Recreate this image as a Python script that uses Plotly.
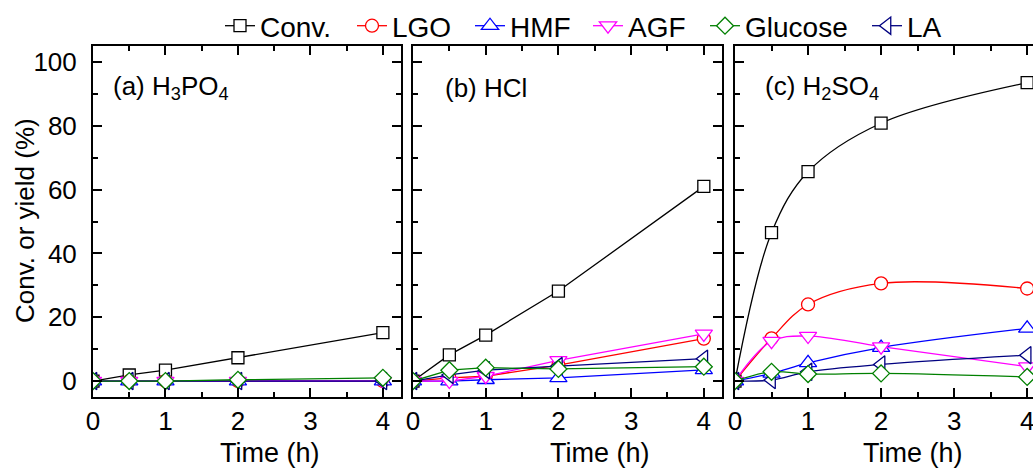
import plotly.graph_objects as go

W, H = 1033, 469

time_h = [0, 0.5, 1, 2, 4]
series_names = ["Conv.", "LGO", "HMF", "AGF", "Glucose", "LA"]

# panel (a) H3PO4
a_conv = [0, 1.9, 3.4, 7.3, 15.2]
a_lgo = [0, 0, 0, 0, 0]
a_hmf = [0, 0, 0, 0, 0]
a_agf = [0, 0, 0, 0, 0]
a_glucose = [0, 0, 0, 0.4, 1.0]
a_la = [0, 0, 0, 0, 0]

# panel (b) HCl
b_conv = [0, 8.2, 14.4, 28.2, 61.0]
b_lgo = [0, 1.0, 1.5, 5.0, 13.3]
b_hmf = [0, 0, 0.4, 1.0, 3.5]
b_agf = [0, 0, 1.5, 6.5, 14.8]
b_glucose = [0, 3.4, 4.2, 3.8, 4.5]
b_la = [0, 1.9, 3.4, 4.7, 7.0]

# panel (c) H2SO4
c_conv = [0, 46.5, 65.6, 80.8, 93.5]
c_lgo = [0, 13.4, 24.0, 30.6, 29.0]
c_hmf = [0, 2.4, 5.7, 10.5, 16.5]
c_agf = [0, 12.5, 14.1, 10.8, 4.5]
c_glucose = [0, 2.9, 2.2, 2.4, 1.3]
c_la = [0, 0.3, 2.9, 5.2, 8.1]

panel_labels = ["(a) H<sub>3</sub>PO<sub>4</sub>", "(b) HCl", "(c) H<sub>2</sub>SO<sub>4</sub>"]
x_title = "Time (h)"
y_title = "Conv. or yield (%)"

styles = {
    "Conv.": dict(color="#000000", symbol="square", size=12),
    "LGO": dict(color="#FF0000", symbol="circle", size=13),
    "HMF": dict(color="#0000FF", symbol="triangle-up", size=15),
    "AGF": dict(color="#FF00FF", symbol="triangle-down", size=15),
    "Glucose": dict(color="#008000", symbol="diamond", size=13),
    "LA": dict(color="#000080", symbol="triangle-left", size=15),
}
draw_order = ["Conv.", "LGO", "HMF", "AGF", "LA", "Glucose"]

panels = [
    dict(Conv=a_conv, LGO=a_lgo, HMF=a_hmf, AGF=a_agf, Glucose=a_glucose, LA=a_la),
    dict(Conv=b_conv, LGO=b_lgo, HMF=b_hmf, AGF=b_agf, Glucose=b_glucose, LA=b_la),
    dict(Conv=c_conv, LGO=c_lgo, HMF=c_hmf, AGF=c_agf, Glucose=c_glucose, LA=c_la),
]
shapes_line = ["linear", "linear", "spline"]

legend_ids = {"Conv.": "legend", "LGO": "legend2", "HMF": "legend3",
              "AGF": "legend4", "Glucose": "legend5", "LA": "legend6"}
legend_px = {"Conv.": 225, "LGO": 357, "HMF": 475, "AGF": 593, "Glucose": 710, "LA": 872}

FONT = "Liberation Sans, Arial, sans-serif"

fig = go.Figure()
for p, data in enumerate(panels):
    xa = "x" if p == 0 else f"x{p+1}"
    ya = "y" if p == 0 else f"y{p+1}"
    for name in draw_order:
        key = "Conv" if name == "Conv." else name
        st = styles[name]
        fig.add_trace(go.Scatter(
            x=time_h, y=data[key], name=name, xaxis=xa, yaxis=ya,
            mode="lines+markers",
            line=dict(color=st["color"], width=1.3, shape=shapes_line[p]),
            marker=dict(symbol=st["symbol"], size=st["size"], color="white",
                        line=dict(color=st["color"], width=1.3)),
            showlegend=(p == 0), legend=legend_ids[name],
        ))

px_dom = [(93, 401), (413, 722), (735, 1033)]
x_ranges = [[0, 4.25], [0, 4.25], [0, 4.08]]
ydom = [72 / H, 423 / H]

axis_common = dict(showline=True, linewidth=2, linecolor="black", ticks="inside",
                   tickwidth=2, ticklen=9, tickcolor="black", showgrid=False,
                   zeroline=False, automargin=False,
                   tickfont=dict(family=FONT, size=26, color="black"))

layout = dict(template="none", width=W, height=H,
              margin=dict(l=0, r=0, t=0, b=0, autoexpand=False),
              plot_bgcolor="white", paper_bgcolor="white",
              font=dict(family=FONT, size=26, color="black"))

for p in range(3):
    xk = "xaxis" if p == 0 else f"xaxis{p+1}"
    yk = "yaxis" if p == 0 else f"yaxis{p+1}"
    ya = "y" if p == 0 else f"y{p+1}"
    xa = "x" if p == 0 else f"x{p+1}"
    layout[xk] = dict(axis_common, domain=[px_dom[p][0] / W, px_dom[p][1] / W],
                      range=x_ranges[p], anchor=ya, tick0=0, dtick=1,
                      mirror="allticks", ticklabelstandoff=0, ticklabeloverflow="allow",
                      minor=dict(dtick=0.5, tick0=0, ticks="inside", ticklen=5,
                                 tickwidth=2, tickcolor="black"))
    layout[yk] = dict(axis_common, domain=ydom, range=[-5, 105], anchor=xa,
                      tick0=0, dtick=20, mirror=("allticks" if p < 2 else False),
                      showticklabels=(p == 0), ticklabelstandoff=9,
                      minor=dict(dtick=10, tick0=0, ticks="inside", ticklen=5,
                                 tickwidth=2, tickcolor="black"))

for name, lid in legend_ids.items():
    layout[lid] = dict(orientation="h", x=(legend_px[name] - 5) / W, xanchor="left",
                       y=(H - 26) / H, yanchor="middle", bgcolor="rgba(0,0,0,0)",
                       font=dict(family=FONT, size=28, color="black"),
                       itemwidth=30)

fig.update_layout(**layout)

ann_x = [111, 443, 763]
for p in range(3):
    fig.add_annotation(text=panel_labels[p], x=ann_x[p] / W, y=(H - 88) / H,
                       xref="paper", yref="paper", xanchor="left", yanchor="middle",
                       showarrow=False, font=dict(family=FONT, size=26, color="black"))

title_x = [270, 600, 913]
for p in range(3):
    fig.add_annotation(text=x_title, x=title_x[p] / W, y=0, borderpad=0,
                       xref="paper", yref="paper", xanchor="center", yanchor="bottom",
                       showarrow=False, font=dict(family=FONT, size=27, color="black"))

fig.add_annotation(text=y_title, x=25 / W, y=(H - 221) / H, xref="paper", yref="paper",
                   xanchor="center", yanchor="middle", textangle=-90, showarrow=False,
                   font=dict(family=FONT, size=26, color="black"))

fig.write_html("out.html")
